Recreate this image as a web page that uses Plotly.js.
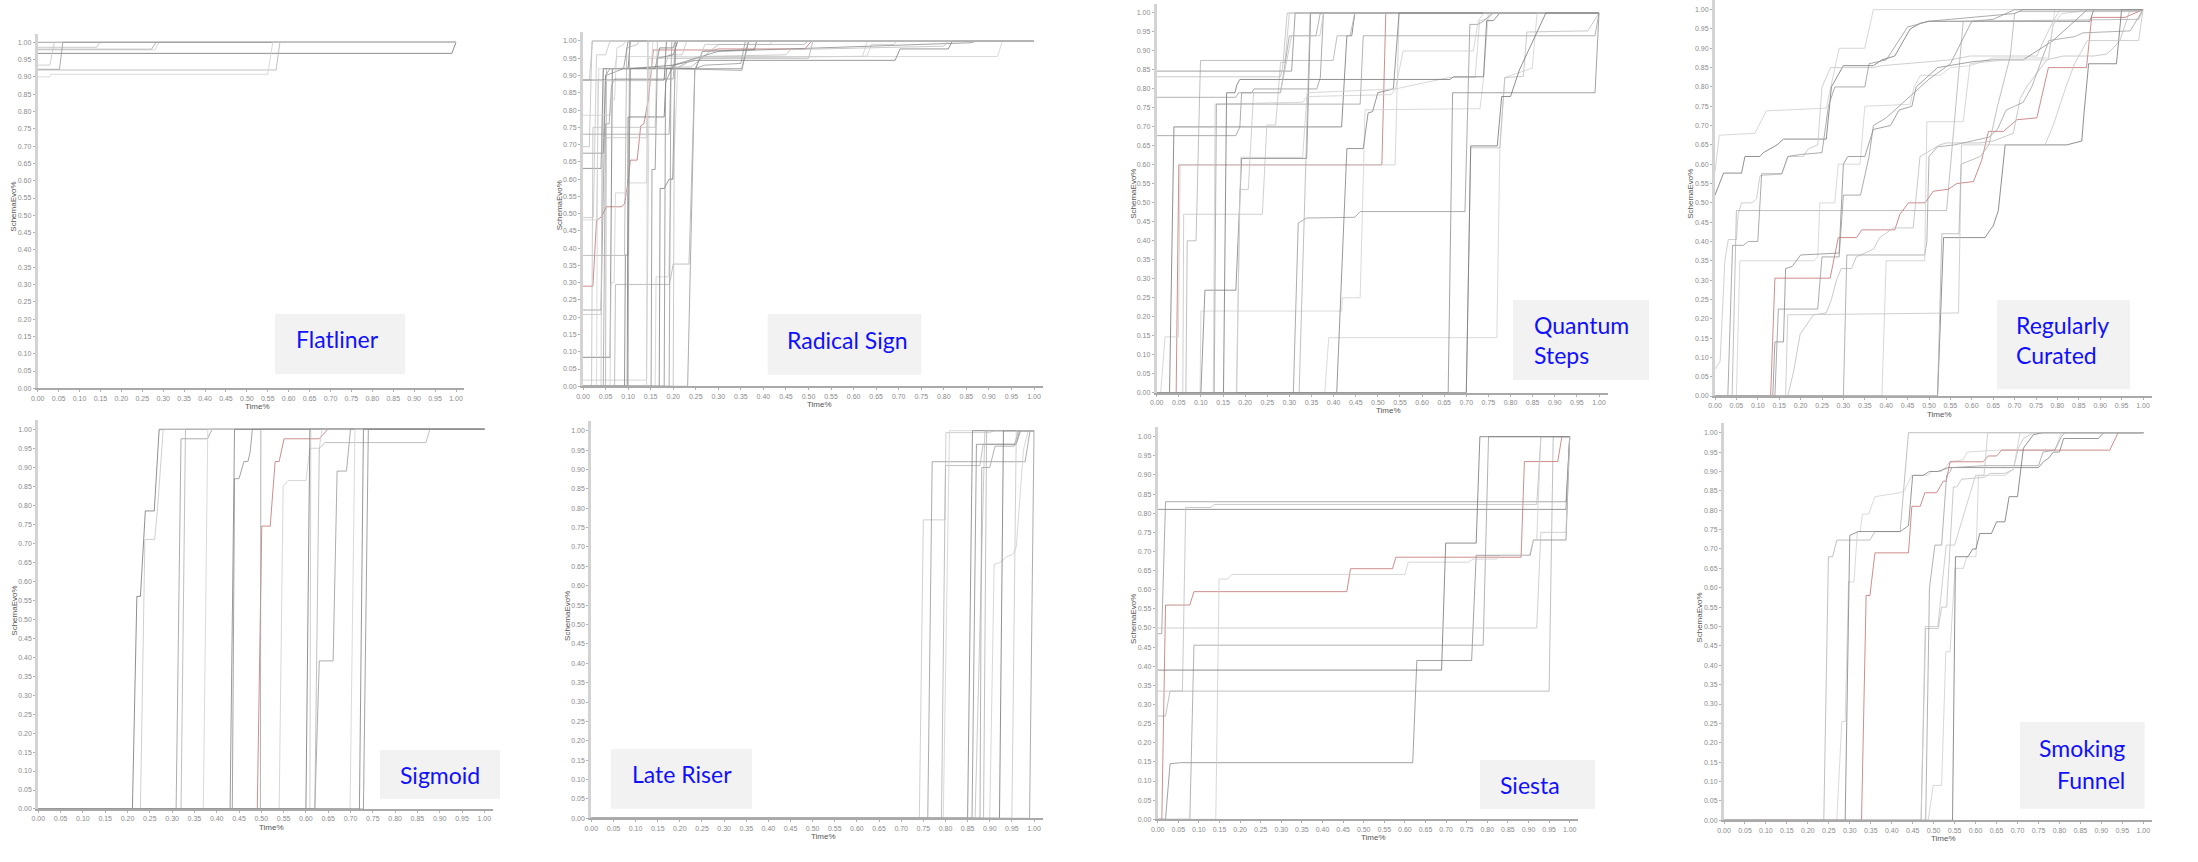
<!DOCTYPE html>
<html><head><meta charset="utf-8">
<script src="https://cdn.plot.ly/plotly-3.0.1.min.js"></script>
<style>html,body{margin:0;padding:0;background:#fff}#chart{width:2198px;height:862px}</style>
</head><body><div id="chart"></div>
<script>
// ---- DATA: each series is a list of [time%, schemaEvo%] points ----
const flatliner = [
 [[0,1],[1,1]],
 [[0,0.9855],[0.141,0.9855],[0.149,1],[1,1]],
 [[0,0.980],[0.272,0.980],[0.283,1],[1,1]],
 [[0,0.978],[0.28,0.978],[0.29,1],[1,1]],
 [[0,0.968],[0.99,0.968],[1,1]],
 [[0,0.934],[0.029,0.934],[0.04,1],[1,1]],
 [[0,0.922],[0.052,0.922],[0.06,1],[1,1]],
 [[0,0.92],[0.57,0.92],[0.579,1],[1,1]],
 [[0,0.90],[0.029,0.90],[0.031,0.9075],[0.55,0.9075],[0.562,1],[1,1]]
];
const radicalSign = [
 [[0,0.887],[0.014,0.887],[0.021,1],[1,1]],
 [[0,0.29],[0.022,0.29],[0.03,0.48],[0.04,0.49],[0.052,0.52],[0.085,0.52],[0.092,0.528],[0.1,0.593],[0.105,0.655],[0.12,0.655],[0.128,0.754],[0.135,0.76],[0.145,0.83],[0.156,0.974],[0.29,0.974],[0.3,0.977],[0.492,0.977],[0.507,1],[1,1]],
 [[0,0.018],[0.141,0.018],[0.147,0.92],[0.2,0.92],[0.205,0.95],[0.629,0.956],[0.64,0.99],[0.69,0.99],[0.695,1],[1,1]],
 [[0,0.084],[0.06,0.084],[0.065,0.92],[0.1,0.92],[0.105,1],[1,1]],
 [[0,0.208],[0.04,0.208],[0.045,0.92],[0.18,0.92],[0.19,0.96],[0.22,0.96],[0.23,1],[1,1]],
 [[0,0.221],[0.04,0.221],[0.05,0.9],[0.06,0.92],[0.352,0.92],[0.367,1],[1,1]],
 [[0,0.379],[0.092,0.379],[0.097,0.98],[0.12,0.99],[0.125,1],[1,1]],
 [[0,0.482],[0.03,0.482],[0.035,0.92],[0.07,0.92],[0.075,0.955],[0.919,0.955],[0.93,1],[1,1]],
 [[0,0.631],[0.04,0.631],[0.045,0.92],[0.16,0.92],[0.17,0.98],[0.2,0.98],[0.205,1],[1,1]],
 [[0,0.675],[0.045,0.675],[0.05,0.9],[0.09,0.92],[0.1,1],[1,1]],
 [[0,0.694],[0.014,0.694],[0.02,1],[1,1]],
 [[0,0.73],[0.191,0.73],[0.197,1],[1,1]],
 [[0,0.785],[0.06,0.785],[0.063,0.83],[0.07,0.83],[0.075,0.98],[0.09,0.99],[0.095,1],[1,1]],
 [[0,0],[0.098,0],[0.1,0.78],[0.18,0.78],[0.185,0.92],[0.25,0.92],[0.265,0.97],[0.38,0.975],[0.385,1],[1,1]],
 [[0,0],[0.04,0],[0.042,0.72],[0.141,0.72],[0.145,0.95],[0.26,0.95],[0.27,0.99],[0.415,0.99],[0.42,1],[1,1]],
 [[0,0],[0.232,0],[0.248,0.92],[0.27,0.93],[0.35,0.935],[0.36,1],[1,1]],
 [[0,0],[0.07,0],[0.072,0.295],[0.191,0.295],[0.195,0.317],[0.2,0.354],[0.235,0.354],[0.248,0.92],[0.26,0.95],[0.5,0.95],[0.51,1],[1,1]],
 [[0,0],[0.16,0],[0.162,0.317],[0.19,0.317],[0.195,0.6],[0.2,0.6],[0.21,0.92],[0.25,0.955],[0.62,0.955],[0.63,1],[1,1]],
 [[0,0],[0.169,0],[0.171,0.573],[0.18,0.573],[0.191,0.6],[0.199,0.6],[0.205,0.98],[0.21,1],[1,1]],
 [[0,0],[0.151,0],[0.153,0.628],[0.16,0.628],[0.165,0.95],[0.2,0.96],[0.21,1],[1,1]],
 [[0,0],[0.019,0],[0.022,0.75],[0.16,0.75],[0.165,1],[1,1]],
 [[0,0],[0.045,0],[0.05,0.76],[0.058,0.76],[0.063,0.87],[0.07,0.89],[0.2,0.89],[0.205,1],[1,1]],
 [[0,0],[0.06,0],[0.062,0.3],[0.069,0.3],[0.072,0.56],[0.098,0.56],[0.1,0.589],[0.141,0.589],[0.145,1],[1,1]],
 [[0,0.887],[0.18,0.887],[0.185,1],[1,1]],
 [[0,0.489],[0.023,0.489],[0.03,0.96],[0.05,0.96],[0.06,1],[1,1]],
 [[0,0],[0.191,0],[0.195,0.92],[0.352,0.915],[0.367,1],[1,1]],
 [[0,0],[0.05,0],[0.052,0.92],[0.24,0.925],[0.3,0.99],[0.49,0.99],[0.5,1],[1,1]],
 [[0,0],[0.03,0],[0.033,0.885],[0.15,0.885],[0.155,1],[1,1]],
 [[0,0],[0.092,0],[0.094,0.38],[0.1,0.38],[0.105,0.92],[0.2,0.93],[0.25,0.944],[0.692,0.944],[0.703,0.977],[0.81,0.977],[0.819,1],[1,1]],
 [[0,0],[0.18,0],[0.183,0.88],[0.19,0.9],[0.2,0.93],[0.3,0.97],[0.86,0.995],[0.873,1],[1,1]],
 [[0,0],[0.2,0],[0.203,0.92],[0.26,0.955],[0.45,0.96],[0.46,0.975],[0.8,0.985],[0.81,1],[1,1]],
 [[0,0],[0.1,0],[0.103,1],[1,1]],
 [[0,0],[0.141,0],[0.143,1],[1,1]]
];
const quantumSteps = [
 [[0,0],[0.044,0],[0.05,0.60],[0.509,0.60],[0.518,1],[1,1]],
 [[0,0],[0.009,0],[0.019,0.147],[0.049,0.147],[0.053,0.60],[0.539,0.60],[0.548,1],[1,1]],
 [[0,0],[0.029,0],[0.039,0.70],[0.418,0.70],[0.43,0.94],[0.441,0.94],[0.448,1],[1,1]],
 [[0,0],[0.059,0],[0.061,0.47],[0.239,0.47],[0.249,0.705],[0.269,0.705],[0.28,0.87],[0.29,0.87],[0.30,1],[1,1]],
 [[0,0.677],[0.179,0.677],[0.188,0.70],[0.192,0.79],[0.215,0.79],[0.22,0.80],[0.362,0.80],[0.37,0.83],[0.377,1],[1,1]],
 [[0,0],[0.066,0],[0.069,0.40],[0.089,0.40],[0.099,0.875],[0.399,0.875],[0.408,0.94],[0.437,0.94],[0.448,1],[1,1]],
 [[0,0],[0.098,0],[0.10,0.215],[0.418,0.215],[0.42,0.25],[0.46,0.25],[0.471,0.745],[0.731,0.748],[0.739,0.83],[0.75,1],[1,1]],
 [[0,0],[0.10,0],[0.109,0.27],[0.179,0.27],[0.192,0.617],[0.339,0.617],[0.348,1],[1,1]],
 [[0,0.847],[0.305,0.847],[0.313,1],[1,1]],
 [[0,0.832],[0.28,0.832],[0.285,0.86],[0.295,1],[1,1]],
 [[0,0.778],[0.179,0.778],[0.185,0.79],[0.28,0.79],[0.30,0.94],[0.36,0.94],[0.37,1],[1,1]],
 [[0,0],[0.128,0],[0.132,0.76],[0.33,0.765],[0.34,0.78],[0.53,0.785],[0.54,0.8],[0.66,0.83],[0.72,0.83],[0.73,0.98],[0.75,0.985],[0.76,1],[1,1]],
 [[0,0],[0.151,0],[0.158,0.79],[0.177,0.79],[0.181,0.81],[0.188,0.825],[0.663,0.825],[0.671,0.832],[0.739,0.832],[0.746,0.98],[0.761,0.98],[0.776,1],[1,1]],
 [[0,0],[0.181,0],[0.188,0.535],[0.207,0.535],[0.219,0.79],[0.279,0.79],[0.29,0.85],[0.305,0.94],[0.369,0.94],[0.377,1],[1,1]],
 [[0,0],[0.309,0],[0.32,0.447],[0.339,0.46],[0.448,0.462],[0.46,0.477],[0.697,0.477],[0.708,0.97],[0.727,0.97],[0.74,0.98],[0.76,1],[1,1]],
 [[0,0],[0.322,0],[0.347,1],[1,1]],
 [[0,0],[0.38,0],[0.389,0.145],[0.769,0.145],[0.776,0.65],[0.787,0.83],[0.849,0.855],[0.86,1],[1,1]],
 [[0,0],[0.407,0],[0.43,0.643],[0.467,0.643],[0.478,0.737],[0.488,0.74],[0.5,0.79],[0.535,0.80],[0.548,1],[1,1]],
 [[0,0],[0.659,0],[0.669,0.79],[0.991,0.79],[1,1]],
 [[0,0],[0.70,0],[0.71,0.645],[0.776,0.645],[0.787,0.83],[0.829,0.833],[0.837,0.95],[0.975,0.953],[1,1]],
 [[0,0],[0.13,0],[0.135,0.76],[0.46,0.76],[0.467,0.94],[0.991,0.94],[1,1]],
 [[0,0],[0.18,0],[0.19,0.62],[0.33,0.62],[0.34,0.79],[0.54,0.80],[0.557,0.90],[0.716,0.90],[0.727,0.98],[0.74,1],[1,1]],
 [[0,0],[0.7,0],[0.71,0.65],[0.77,0.65],[0.78,0.78],[0.80,0.78],[0.82,0.85],[0.86,0.95],[0.88,1],[1,1]]
];
const regularlyCurated = [
 [[0,0.58],[0.01,0.675],[0.093,0.68],[0.12,0.738],[0.26,0.745],[0.275,0.82],[0.29,0.90],[0.35,0.90],[0.37,1],[1,1]],
 [[0,0.52],[0.02,0.577],[0.062,0.577],[0.07,0.62],[0.105,0.62],[0.113,0.63],[0.145,0.65],[0.16,0.665],[0.26,0.665],[0.272,0.80],[0.3,0.855],[0.37,0.855],[0.39,0.87],[0.42,0.88],[0.456,0.95],[0.48,0.965],[0.50,0.97],[0.876,0.97],[0.885,1],[1,1]],
 [[0,0.07],[0.012,0.09],[0.023,0.35],[0.031,0.405],[0.05,0.405],[0.054,0.47],[0.062,0.50],[0.086,0.50],[0.097,0.51],[0.105,0.57],[0.156,0.575],[0.171,0.62],[0.206,0.62],[0.218,0.64],[0.24,0.65],[0.25,0.80],[0.27,0.85],[0.37,0.85],[0.39,0.855],[0.45,0.86],[0.55,0.87],[0.596,0.88],[0.752,0.88],[0.768,0.92],[0.79,0.97],[0.806,1],[1,1]],
 [[0,0],[0.03,0],[0.041,0.39],[0.066,0.39],[0.078,0.40],[0.1,0.40],[0.109,0.575],[0.156,0.575],[0.17,0.62],[0.2,0.625],[0.25,0.63],[0.265,0.75],[0.28,0.80],[0.35,0.80],[0.36,0.86],[0.4,0.87],[0.45,0.955],[0.5,0.97],[0.55,0.975],[0.6,0.98],[0.7,0.99],[0.72,1],[1,1]],
 [[0,0],[0.04,0],[0.05,0.48],[0.541,0.48],[0.58,0.97],[0.99,0.975],[1,1]],
 [[0,0],[0.05,0],[0.058,0.35],[0.23,0.35],[0.24,0.36],[0.245,0.50],[0.28,0.50],[0.288,0.60],[0.339,0.60],[0.35,0.75],[0.456,0.755],[0.465,0.80],[0.48,0.83],[0.526,0.83],[0.55,0.85],[0.596,0.855],[0.65,0.875],[0.779,0.875],[0.794,1],[1,1]],
 [[0,0],[0.13,0],[0.14,0.305],[0.269,0.305],[0.288,0.41],[0.331,0.41],[0.343,0.43],[0.42,0.43],[0.432,0.47],[0.452,0.50],[0.491,0.50],[0.51,0.53],[0.545,0.535],[0.565,0.55],[0.604,0.555],[0.623,0.61],[0.639,0.685],[0.674,0.685],[0.705,0.715],[0.752,0.72],[0.779,0.85],[0.868,0.85],[0.88,0.98],[0.958,0.98],[1,1]],
 [[0,0],[0.135,0],[0.14,0.14],[0.16,0.14],[0.165,0.33],[0.18,0.335],[0.2,0.365],[0.29,0.37],[0.3,0.6],[0.31,0.62],[0.35,0.62],[0.37,0.69],[0.41,0.70],[0.43,0.74],[0.46,0.75],[0.47,0.80],[0.52,0.85],[0.6,0.865],[0.65,0.87],[0.72,0.87],[0.79,0.92],[0.86,0.99],[0.87,1],[1,1]],
 [[0,0],[0.17,0],[0.183,0.06],[0.199,0.16],[0.23,0.21],[0.26,0.215],[0.272,0.25],[0.284,0.30],[0.295,0.33],[0.319,0.33],[0.33,0.36],[0.37,0.38],[0.385,0.41],[0.417,0.435],[0.463,0.435],[0.479,0.62],[0.495,0.63],[0.525,0.65],[0.541,0.655],[0.619,0.655],[0.65,0.66],[0.674,0.67],[0.697,0.68],[0.713,0.77],[0.728,0.80],[0.775,0.87],[0.814,0.88],[0.884,0.88],[0.915,0.885],[0.93,0.90],[0.946,0.92],[0.97,1],[1,1]],
 [[0,0],[0.30,0],[0.308,0.365],[0.49,0.365],[0.495,0.40],[0.5,0.62],[0.52,0.645],[0.56,0.65],[0.6,0.66],[0.64,0.67],[0.66,0.69],[0.68,0.74],[0.7,0.75],[0.72,0.76],[0.74,0.80],[0.76,0.86],[0.78,0.92],[0.84,0.93],[0.86,0.94],[0.97,0.945],[1,1]],
 [[0,0],[0.39,0],[0.40,0.35],[0.49,0.35],[0.495,0.71],[0.58,0.71],[0.596,0.86],[0.64,0.865],[0.674,0.87],[0.779,0.87],[0.79,0.96],[0.81,0.99],[0.85,0.995],[0.86,1],[1,1]],
 [[0,0],[0.52,0],[0.534,0.41],[0.631,0.41],[0.643,0.43],[0.65,0.44],[0.662,0.48],[0.678,0.65],[0.822,0.65],[0.857,0.66],[0.862,0.73],[0.873,0.86],[0.938,0.86],[0.95,1],[1,1]],
 [[0,0],[0.165,0],[0.17,0.21],[0.569,0.215],[0.576,0.65],[0.771,0.65],[0.79,0.7],[0.82,0.8],[0.84,0.86],[0.86,0.9],[0.87,0.92],[0.99,0.92],[1,1]],
 [[0,0],[0.14,0],[0.148,0.225],[0.24,0.225],[0.25,0.36],[0.29,0.36],[0.3,0.52],[0.34,0.52],[0.36,0.62],[0.37,0.7],[0.4,0.72],[0.44,0.76],[0.5,0.82],[0.55,0.86],[0.6,0.97],[0.65,0.975],[0.7,1],[1,1]],
 [[0,0],[0.52,0],[0.53,0.42],[0.57,0.42],[0.575,0.6],[0.62,0.62],[0.64,0.65],[0.66,0.75],[0.69,0.88],[0.7,0.99],[0.71,0.995],[0.99,0.995],[1,1]]
];
const sigmoid = [
 [[0,0],[0.211,0],[0.221,0.56],[0.229,0.56],[0.24,0.785],[0.26,0.785],[0.271,1],[1,1]],
 [[0,0],[0.229,0],[0.239,0.71],[0.261,0.71],[0.268,0.8],[0.28,1],[1,1]],
 [[0,0],[0.309,0],[0.32,0.975],[0.379,0.975],[0.39,1],[1,1]],
 [[0,0],[0.32,0],[0.33,1],[1,1]],
 [[0,0],[0.37,0],[0.38,1],[1,1]],
 [[0,0],[0.43,0],[0.44,1],[1,1]],
 [[0,0],[0.435,0],[0.44,0.87],[0.45,0.87],[0.461,0.915],[0.47,0.915],[0.475,0.94],[0.48,1],[1,1]],
 [[0,0],[0.491,0],[0.501,0.745],[0.52,0.745],[0.531,0.915],[0.54,0.915],[0.551,0.975],[0.63,0.975],[0.649,1],[1,1]],
 [[0,0],[0.498,0],[0.499,1],[1,1]],
 [[0,0],[0.54,0],[0.549,0.85],[0.56,0.865],[0.6,0.865],[0.609,0.95],[0.63,0.95],[0.636,1],[1,1]],
 [[0,0],[0.6,0],[0.609,1],[1,1]],
 [[0,0],[0.609,0],[0.611,1],[1,1]],
 [[0,0],[0.62,0],[0.63,0.39],[0.661,0.39],[0.67,0.89],[0.691,0.89],[0.70,1],[1,1]],
 [[0,0],[0.62,0],[0.63,0.95],[0.643,0.965],[0.869,0.965],[0.878,1],[1,1]],
 [[0,0],[0.699,0],[0.71,1],[1,1]],
 [[0,0],[0.72,0],[0.729,1],[1,1]],
 [[0,0],[0.729,0],[0.74,1],[1,1]]
];
const lateRiser = [
 [[0,0],[0.741,0],[0.75,0.77],[0.799,0.77],[0.801,0.995],[0.9,0.995],[0.91,1],[1,1]],
 [[0,0],[0.76,0],[0.77,0.92],[0.98,0.92],[0.991,1],[1,1]],
 [[0,0],[0.791,0],[0.80,0.91],[0.878,0.91],[0.885,0.965],[0.96,0.965],[0.97,1],[1,1]],
 [[0,0],[0.795,0],[0.809,1],[1,1]],
 [[0,0],[0.85,0],[0.861,1],[1,1]],
 [[0,0],[0.86,0],[0.87,0.965],[0.959,0.965],[0.968,1],[1,1]],
 [[0,0],[0.867,0],[0.889,1],[1,1]],
 [[0,0],[0.878,0],[0.882,0.905],[0.90,0.905],[0.912,0.96],[0.955,0.96],[0.965,1],[1,1]],
 [[0,0],[0.90,0],[0.91,0.655],[0.923,0.66],[0.938,0.675],[0.952,0.68],[0.96,0.70],[0.976,0.95],[0.987,1],[1,1]],
 [[0,0],[0.922,0],[0.931,1],[1,1]],
 [[0,0],[0.95,0],[0.96,1],[1,1]],
 [[0,0],[0.99,0],[1,1]],
 [[0,0],[0.886,0],[0.893,1],[1,1]]
];
const siesta = [
 [[0,0.485],[0.0097,0.485],[0.019,0.83],[0.991,0.83],[1,1]],
 [[0,0.27],[0.019,0.27],[0.03,0.335],[0.95,0.335],[0.96,1],[1,1]],
 [[0,0],[0.01,0],[0.019,0.56],[0.078,0.56],[0.088,0.595],[0.459,0.595],[0.468,0.655],[0.57,0.655],[0.578,0.685],[0.882,0.685],[0.89,0.935],[0.971,0.935],[0.981,1],[1,1]],
 [[0,0.81],[0.991,0.81],[1,1]],
 [[0,0],[0.019,0],[0.03,0.145],[0.056,0.148],[0.619,0.148],[0.629,0.415],[0.762,0.415],[0.773,0.69],[0.904,0.69],[0.912,0.73],[0.991,0.73],[1,1]],
 [[0,0.335],[0.06,0.335],[0.068,0.815],[0.129,0.815],[0.137,0.823],[0.92,0.823],[0.93,1],[1,1]],
 [[0,0],[0.078,0],[0.088,0.455],[0.79,0.455],[0.803,1],[1,1]],
 [[0,0],[0.141,0],[0.149,0.628],[0.17,0.628],[0.18,0.64],[0.60,0.64],[0.608,0.672],[0.754,0.672],[0.765,0.68],[0.823,0.68],[0.83,0.69],[0.902,0.69],[0.912,0.73],[0.92,0.73],[0.93,1],[1,1]],
 [[0,0.39],[0.689,0.39],[0.699,0.722],[0.773,0.722],[0.782,1],[1,1]],
 [[0,0.5],[0.92,0.5],[0.93,0.75],[0.991,0.75],[1,1]]
];
const smokingFunnel = [
 [[0,0],[0.238,0],[0.249,0.68],[0.259,0.68],[0.269,0.723],[0.348,0.723],[0.36,0.745],[0.42,0.745],[0.44,1],[1,1]],
 [[0,0],[0.269,0],[0.281,0.255],[0.289,0.255],[0.297,0.615],[0.31,0.615],[0.318,0.745],[0.325,0.745],[0.33,0.79],[0.345,0.79],[0.36,0.835],[0.388,0.84],[0.42,0.845],[0.43,0.85],[0.448,0.89],[0.487,0.89],[0.495,0.90],[0.52,0.90],[0.539,0.925],[0.57,0.93],[0.58,0.95],[0.65,0.955],[0.789,0.955],[0.805,1],[1,1]],
 [[0,0],[0.289,0],[0.30,0.735],[0.32,0.745],[0.42,0.745],[0.44,0.76],[0.45,0.89],[0.475,0.89],[0.49,0.90],[0.51,0.90],[0.535,0.91],[0.75,0.91],[0.762,0.925],[0.775,0.935],[0.785,0.95],[0.80,0.95],[0.81,0.985],[0.893,0.985],[0.905,1],[1,1]],
 [[0,0],[0.328,0],[0.339,0.58],[0.348,0.58],[0.36,0.69],[0.44,0.69],[0.448,0.81],[0.468,0.81],[0.479,0.845],[0.507,0.845],[0.523,0.875],[0.53,0.875],[0.539,0.925],[0.618,0.925],[0.63,0.94],[0.65,0.94],[0.662,0.955],[0.92,0.955],[0.94,1],[1,1]],
 [[0,0],[0.47,0],[0.481,0.495],[0.511,0.495],[0.519,0.55],[0.531,0.55],[0.547,0.86],[0.555,0.86],[0.567,0.88],[0.622,0.885],[0.634,0.895],[0.67,0.895],[0.69,0.905],[0.702,0.96],[0.714,0.985],[0.738,1],[1,1]],
 [[0,0],[0.481,0],[0.49,0.60],[0.503,0.71],[0.519,0.71],[0.531,0.89],[0.54,0.90],[0.543,0.91],[0.62,0.915],[0.75,0.915],[0.761,0.95],[0.789,0.955],[0.805,0.99],[0.813,1],[1,1]],
 [[0,0],[0.487,0],[0.499,0.09],[0.519,0.09],[0.529,0.435],[0.539,0.435],[0.551,0.65],[0.571,0.65],[0.579,0.68],[0.601,0.68],[0.607,0.89],[0.67,0.89],[0.69,0.905],[0.706,1],[1,1]],
 [[0,0],[0.545,0],[0.552,0.68],[0.582,0.68],[0.593,0.70],[0.601,0.70],[0.61,0.74],[0.638,0.74],[0.65,0.77],[0.67,0.77],[0.68,0.835],[0.70,0.835],[0.714,0.96],[0.738,0.995],[0.76,1],[1,1]],
 [[0,0],[0.47,0],[0.48,0.5],[0.51,0.5],[0.53,0.71],[0.55,0.71],[0.6,0.89],[0.62,0.89],[0.629,1],[1,1]]
];
const tickLabels = ['0.00','0.05','0.10','0.15','0.20','0.25','0.30','0.35','0.40','0.45','0.50','0.55','0.60','0.65','0.70','0.75','0.80','0.85','0.90','0.95','1.00'];
const tickValues = [0,0.05,0.10,0.15,0.20,0.25,0.30,0.35,0.40,0.45,0.50,0.55,0.60,0.65,0.70,0.75,0.80,0.85,0.90,0.95,1.00];
const xTitle = 'Time%';
const yTitle = 'SchemaEvo%';

// ---- LAYOUT (pixel geometry of each panel) ----
const W = 2198, H = 862;
const GRAYS = ['#8c8c8c','#bdbdbd','#a0a0a0','#cdcdcd','#727272','#c4c4c4','#979797','#b0b0b0','#d0d0d0','#7e7e7e'];
const RED = '#c07070';
const panels = [
 {data:flatliner,        x0:37.7,  x1:456,    y0:388.3, y1:42.3,  red:-1,
  box:[275,314,405,374],      text:[['Flatliner',294,339,'left']]},
 {data:radicalSign,      x0:583,   x1:1034,   y0:386.3, y1:41,    red:1,
  box:[767.7,314,921.3,374.7],text:[['Radical Sign',785,339.5,'left']]},
 {data:quantumSteps,     x0:1156.7,x1:1599,   y0:392.7, y1:13,    red:0,
  box:[1513,300,1649,380],    text:[['Quantum',1532,325.3,'left'],['Steps',1532,355.5,'left']]},
 {data:regularlyCurated, x0:1715,  x1:2143,   y0:396,   y1:9.3,   red:6,
  box:[1997,300,2130,389],    text:[['Regularly',2014,325.3,'left'],['Curated',2014,355.3,'left']]},
 {data:sigmoid,          x0:38.3,  x1:484.3,  y0:809,   y1:429.3, red:7,
  box:[380,750,500,799],      text:[['Sigmoid',398.3,774.7,'left']]},
 {data:lateRiser,        x0:591.3, x1:1034,   y0:818.3, y1:430.7, red:-1,
  box:[611,749,752,808.7],    text:[['Late Riser',630,774,'left']]},
 {data:siesta,           x0:1157.7,x1:1569.7, y0:819.3, y1:436.7, red:2,
  box:[1480,760,1595,809],    text:[['Siesta',1497.7,785.3,'left']]},
 {data:smokingFunnel,    x0:1724,  x1:2143.3, y0:820.3, y1:432.7, red:3,
  box:[2020,722,2144.7,808.7],text:[['Smoking',2127.3,747.5,'right'],['Funnel',2127,780.3,'right']]}
];

const traces = [], shapes = [], annotations = [];
const layout = {width:W, height:H, margin:{l:0,r:0,t:0,b:0}, showlegend:false,
  paper_bgcolor:'#ffffff', plot_bgcolor:'rgba(0,0,0,0)', hovermode:false};
const XR = 1.02, YR = 1.025;
const tickFont = {family:'Liberation Sans, Arial, sans-serif', size:7, color:'#8a8a8a'};

panels.forEach((p, i) => {
  const k = i + 1, s = k === 1 ? '' : String(k);
  const xEnd = p.x0 + XR * (p.x1 - p.x0);
  const yTop = p.y0 - YR * (p.y0 - p.y1);
  layout['xaxis' + s] = {domain:[p.x0 / W, xEnd / W], range:[0, XR], anchor:'y' + s,
    tickmode:'array', tickvals:tickValues, ticktext:tickLabels, ticks:'outside', ticklen:2, tickcolor:'#b0b0b0',
    tickfont:tickFont, showline:true, linecolor:'#a9a9a9', linewidth:2, showgrid:false, zeroline:false, fixedrange:true};
  layout['yaxis' + s] = {domain:[1 - p.y0 / H, 1 - yTop / H], range:[0, YR], anchor:'x' + s,
    tickmode:'array', tickvals:tickValues, ticktext:tickLabels, ticks:'outside', ticklen:2, tickcolor:'#b0b0b0',
    tickfont:tickFont, showline:true, linecolor:'#d3d3d3', linewidth:3, showgrid:false, zeroline:false, fixedrange:true};
  p.data.forEach((ser, j) => {
    traces.push({type:'scatter', mode:'lines', x:ser.map(d => d[0]), y:ser.map(d => d[1]),
      xaxis:'x' + s, yaxis:'y' + s, hoverinfo:'skip',
      line:{color: j === p.red ? RED : GRAYS[(j + i) % GRAYS.length], width:0.8}});
  });
  annotations.push({xref:'paper', yref:'paper', x:((p.x0 + xEnd) / 2 + 6) / W, y:1 - (p.y0 + 18) / H,
    text:xTitle, showarrow:false, xanchor:'center', yanchor:'middle',
    font:{family:'Liberation Sans, Arial, sans-serif', size:8, color:'#555555'}});
  annotations.push({xref:'paper', yref:'paper', x:(p.x0 - 24) / W, y:1 - ((p.y0 + yTop) / 2 - 4) / H,
    text:yTitle, showarrow:false, xanchor:'center', yanchor:'middle', textangle:-90,
    font:{family:'Liberation Sans, Arial, sans-serif', size:8, color:'#555555'}});
  shapes.push({type:'rect', xref:'paper', yref:'paper', x0:p.box[0] / W, x1:p.box[2] / W,
    y0:1 - p.box[3] / H, y1:1 - p.box[1] / H, fillcolor:'#f2f2f2', line:{width:0}, layer:'above'});
  p.text.forEach(t => {
    annotations.push({xref:'paper', yref:'paper', x:t[1] / W, y:1 - t[2] / H, text:t[0], showarrow:false,
      xanchor:t[3], yanchor:'middle', font:{family:'Lato, Carlito, sans-serif', size:23, color:'#1010ff'}});
  });
});
layout.shapes = shapes;
layout.annotations = annotations;
Plotly.newPlot('chart', traces, layout, {staticPlot:true, displayModeBar:false});
</script>
</body></html>
